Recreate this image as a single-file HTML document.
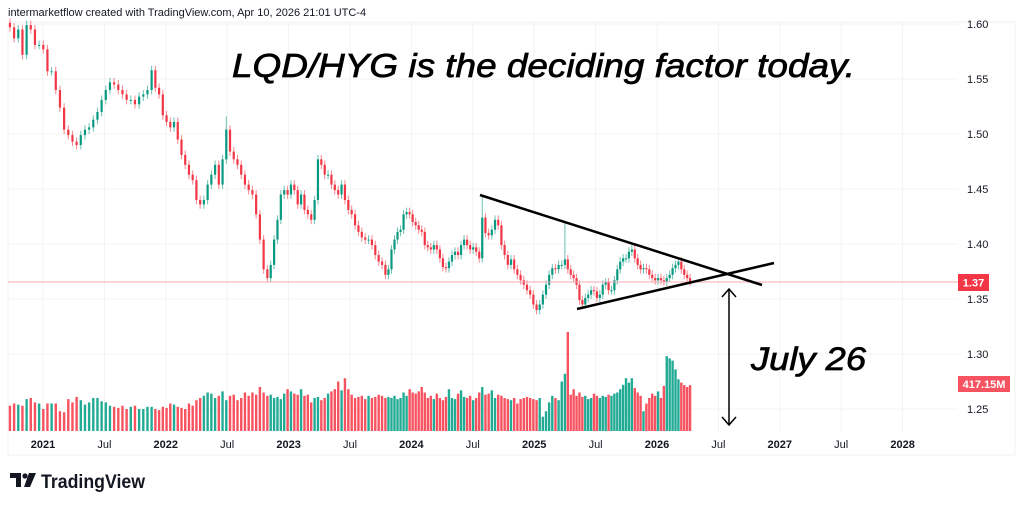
<!DOCTYPE html>
<html><head><meta charset="utf-8"><style>
html,body{margin:0;padding:0;background:#fff;width:1024px;height:507px;overflow:hidden}
svg{display:block;font-family:"Liberation Sans",sans-serif}
</style></head><body>
<svg id="chart" width="1024" height="507" viewBox="0 0 1024 507">
<text x="8" y="16" font-size="11" fill="#131722">intermarketflow created with TradingView.com, Apr 10, 2026 21:01 UTC-4</text>
<rect x="8" y="22" width="1007" height="433" fill="none" stroke="#f0f0f0"/>
<g id="grid"></g>
<g id="vol"></g>
<g id="candles"></g>
<line x1="8" y1="282" x2="958" y2="282" stroke="#f7a9b0" stroke-width="1"/>
<line x1="480" y1="195" x2="762" y2="285" stroke="#000" stroke-width="2.5"/>
<line x1="577" y1="309" x2="774" y2="263" stroke="#000" stroke-width="2.5"/>
<g stroke="#000" stroke-width="1.5" fill="none">
<line x1="729" y1="289" x2="729" y2="425"/>
<polyline points="722,297 729,289 736,297"/>
<polyline points="722,417 729,425 736,417"/>
</g>
<text x="232" y="77" font-size="33" font-style="italic" stroke="#000" stroke-width="0.7" fill="#000" textLength="623" lengthAdjust="spacingAndGlyphs">LQD/HYG is the deciding factor today.</text>
<text x="751" y="370" font-size="32" font-style="italic" stroke="#000" stroke-width="0.7" fill="#000" textLength="115" lengthAdjust="spacingAndGlyphs">July 26</text>
<g id="yaxis"></g>
<g id="xaxis"></g>
<rect x="958" y="274" width="31" height="17" fill="#f23645"/>
<text x="973.5" y="286.5" font-size="11" font-weight="bold" fill="#fff" text-anchor="middle">1.37</text>
<rect x="958" y="376" width="52" height="16" fill="#f7525f"/>
<text x="984" y="388" font-size="11" font-weight="bold" fill="#fff" text-anchor="middle">417.15M</text>
<g>
<path d="M10 473h11v14h-5v-9h-6z" fill="#131722"/>
<circle cx="25" cy="476" r="2.6" fill="#131722"/>
<path d="M29 473h7l-6 14h-6z" fill="#131722"/>
<text x="41" y="488" font-size="19" font-weight="bold" fill="#131722" textLength="104" lengthAdjust="spacingAndGlyphs">TradingView</text>
</g>
</svg>
<script>
const closes=[1.597,1.587,1.595,1.572,1.599,1.595,1.581,1.581,1.577,1.557,
1.557,1.540,1.524,1.504,1.499,1.493,1.490,1.499,1.504,1.506,
1.513,1.520,1.531,1.540,1.547,1.545,1.540,1.536,1.531,1.531,
1.527,1.534,1.536,1.540,1.558,1.542,1.536,1.517,1.511,1.506,
1.511,1.495,1.481,1.472,1.463,1.458,1.440,1.436,1.440,1.454,
1.463,1.472,1.454,1.477,1.504,1.484,1.477,1.472,1.463,1.454,
1.449,1.445,1.427,1.404,1.377,1.369,1.381,1.404,1.422,1.445,
1.449,1.445,1.454,1.449,1.436,1.445,1.431,1.427,1.422,1.440,
1.477,1.472,1.463,1.463,1.454,1.449,1.445,1.454,1.440,1.431,
1.427,1.417,1.411,1.406,1.404,1.404,1.399,1.390,1.384,1.381,
1.372,1.377,1.395,1.404,1.411,1.413,1.427,1.429,1.427,1.420,
1.417,1.413,1.411,1.399,1.397,1.395,1.399,1.395,1.387,1.379,
1.378,1.384,1.390,1.393,1.390,1.399,1.404,1.399,1.395,1.397,
1.393,1.387,1.424,1.410,1.408,1.413,1.422,1.417,1.399,1.390,
1.381,1.386,1.377,1.372,1.367,1.363,1.358,1.354,1.345,1.340,
1.345,1.354,1.363,1.372,1.378,1.377,1.381,1.381,1.386,1.377,
1.372,1.369,1.363,1.349,1.345,1.351,1.354,1.358,1.357,1.351,
1.354,1.363,1.365,1.358,1.358,1.367,1.377,1.384,1.387,1.387,
1.393,1.395,1.387,1.381,1.377,1.378,1.377,1.372,1.369,1.367,
1.369,1.367,1.366,1.369,1.372,1.378,1.381,1.384,1.377,1.372,
1.369,1.366];
// time anchors: sample index -> week number since 2021-01-01
const anchorIdx=[0,34,65,100,132,149,158,201];
const anchorWeek=[-14,46,95,145,186,209,221,274];
const spikeIdx=[54,132,158];
const spikeHigh=[1.516,1.445,1.421];
const volumes=[230,250,240,230,290,300,260,250,200,250,
250,250,180,170,290,260,310,280,240,260,
300,300,270,260,230,220,210,230,200,220,
230,200,200,220,220,200,190,220,210,250,
240,220,210,200,250,230,280,300,320,350,
340,300,320,360,280,320,330,280,300,350,
320,350,330,400,350,320,330,300,310,290,
340,380,360,340,330,380,320,330,260,300,
310,280,300,340,360,380,450,370,480,380,
330,300,310,320,290,320,300,310,330,320,
300,310,300,320,290,300,350,320,380,350,
340,360,400,350,300,320,290,340,300,280,
310,380,300,290,340,370,310,300,320,280,
300,350,400,330,340,370,300,330,320,300,
290,280,300,250,290,300,310,300,290,280,
300,130,180,260,320,300,280,450,520,900,
330,380,320,350,310,320,290,300,340,320,
300,320,310,330,320,340,350,380,420,480,
440,480,390,350,320,180,250,300,340,320,
360,300,410,680,660,640,560,470,440,417,
400,417];
const priceTicks=[1.60,1.55,1.50,1.45,1.40,1.35,1.30,1.25];
const timeLabels=["2021","Jul","2022","Jul","2023","Jul","2024","Jul","2025","Jul","2026","Jul","2027","Jul","2028"];
const timeLabelIdx=[0,1,2,3,4,5,6,7,8,9,10,11,12,13,14];

const NS="http://www.w3.org/2000/svg";
function mk(tag,attrs,parent){const e=document.createElementNS(NS,tag);for(const k in attrs)e.setAttribute(k,attrs[k]);parent.appendChild(e);return e;}
const yS=p=>79+(1.55-p)*1100;
const xW=w=>43+w*(61.4/26);
function weekOf(i){
  for(let k=0;k<anchorIdx.length-1;k++){
    if(i<=anchorIdx[k+1]){const a=anchorIdx[k],b=anchorIdx[k+1];return anchorWeek[k]+(i-a)/(b-a)*(anchorWeek[k+1]-anchorWeek[k]);}
  }
  return anchorWeek[anchorWeek.length-1];
}
const xS=i=>xW(weekOf(i));
const xT=k=>43+k*61.4;
const vS=v=>v*0.11;
const VB=431;
const grid=document.getElementById('grid'),ya=document.getElementById('yaxis'),xa=document.getElementById('xaxis');
priceTicks.forEach(p=>{
  const l=mk('line',{x1:8,x2:958,y1:yS(p),y2:yS(p),stroke:'#f3f3f3'},grid);
  
  
  const t=mk('text',{x:967,y:yS(p)+4,'font-size':11,fill:'#131722'},ya);
  t.textContent=p.toFixed(2);
  
  
});
timeLabelIdx.forEach((k,j)=>{
  const x=xT(k);
  const l=mk('line',{x1:x,x2:x,y1:22,y2:432,stroke:'#f3f3f3'},grid);
  
  
  const t=mk('text',{x:x,y:448,'font-size':11,'font-weight':timeLabels[j]==='Jul'?'normal':'bold',fill:'#131722','text-anchor':'middle'},xa);
  t.textContent=timeLabels[j];
  
  
});
const cg=document.getElementById('candles'),vg=document.getElementById('vol');
closes.forEach((c,i)=>{
  const o=i===0?c+0.004:closes[i-1];
  const up=c>=o;
  const col=up?'#089981':'#f23645';
  let hi=Math.max(o,c)+0.004,lo=Math.min(o,c)-0.004;
  const s=spikeIdx.indexOf(i); if(s>=0) hi=spikeHigh[s];
  const x=xS(i);
  const w=mk('line',{x1:x,x2:x,y1:yS(hi),y2:yS(lo),stroke:col,'stroke-width':1,opacity:0.6},cg);
  
  
  const top=yS(Math.max(o,c)),bh=Math.max(1,yS(Math.min(o,c))-top);
  const b=mk('rect',{x:x-1.1,y:top,width:2.2,height:bh,fill:col},cg);
  
  
  const h=vS(volumes[i]||0);
  const v=mk('rect',{x:x-1.2,y:VB-h,width:2.4,height:h,fill:up?'#22ab94':'#f7525f'},vg);
  
  
});
</script>
</body></html>
